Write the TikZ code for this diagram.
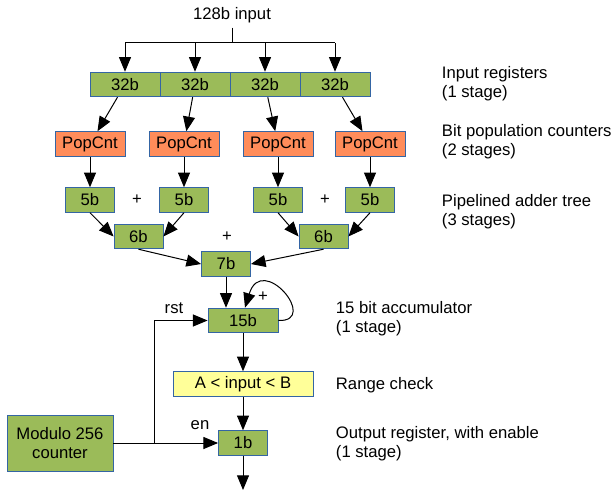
\documentclass[tikz,border=0pt]{standalone}
\usepackage{fontspec}
\setmainfont{Liberation Sans}
\usepackage{tikz}
\usetikzlibrary{arrows.meta,positioning}
\definecolor{regfill}{HTML}{9BBB59}
\definecolor{cntfill}{HTML}{FF8C5A}
\definecolor{chkfill}{HTML}{FFFF99}
\definecolor{boxline}{HTML}{3465A4}

\begin{document}
\begin{tikzpicture}[x=0.75pt,y=-0.75pt,line width=0.75pt,>={Triangle[length=11pt,width=9pt]},
	font=\fontsize{12.5}{14.25}\selectfont,
	box/.style={draw=boxline,line width=0.6pt,inner sep=0pt,minimum height=18.5pt},
	reg/.style={box,fill=regfill,minimum width=52.5pt},
	adder/.style={box,fill=regfill,minimum width=36.75pt},
	cnt/.style={box,fill=cntfill,minimum width=52.5pt},
	note/.style={anchor=west,align=left}]
	\useasboundingbox (0,0) rectangle (613,491);

	\node (in) at (232,15) {128b input};
	\coordinate (fork) at (232,43);
	\node[reg]   (r1) at (125,84.5) {32b};
	\node[reg]   (r2) [right=-0.6pt of r1] {32b};
	\node[reg]   (r3) [right=-0.6pt of r2] {32b};
	\node[reg]   (r4) [right=-0.6pt of r3] {32b};

	\node[cnt]   (p1) at (90,144) {PopCnt};
	\node[cnt]   (p2) at (184,144) {PopCnt};
	\node[cnt]   (p3) at (278,144) {PopCnt};
	\node[cnt]   (p4) at (370,144) {PopCnt};

	\node[adder] (a1) at (90,200) {5b};
	\node[adder] (a2) at (184,200) {5b};
	\node[adder] (a3) at (278,200) {5b};
	\node[adder] (a4) at (370,200) {5b};
	\node        (plus1) at (137,200) {+};
	\node        (plus2) at (325,200) {+};

	\node[adder] (b1) at (138.5,236.5) {6b};
	\node[adder] (b2) at (323.5,236.5) {6b};
	\node        (plus3) at (227,237) {+};
	\node[adder] (c)  at (226,264) {7b};

	\node[reg]   (acc) at (243,320.5) {15b};
	\node        (plus4) at (263,297) {+};
	\node[box,fill=chkfill,minimum width=105pt] (rng) at (243,384) {A < input < B};
	\node[adder] (outreg) at (243,443) {1b};
	\coordinate (out) at (243,490);

	\node[box,fill=regfill,minimum width=79.5pt,minimum height=42pt,align=center] (mod) at (60,443) {Modulo 256\\counter};
	\coordinate (split) at (154,443);
	\node (rst) at (174,308) {rst};
	\node (en)  at (200,425) {en};

	\node[note] (n1) at (437,83.5) {Input registers\\(1 stage)};
	\node[note] (n2) at (437,141.5) {Bit population counters\\(2 stages)};
	\node[note] (n3) at (437,212) {Pipelined adder tree\\(3 stages)};
	\node[note] (n4) at (331,318.5) {15 bit accumulator\\(1 stage)};
	\node[note] (n5) at (331,385) {Range check};
	\node[note] (n6) at (331,444) {Output register, with enable\\(1 stage)};

	\draw (in) -- (fork) (fork -| r1) -- (fork -| r4);
	\path[->] (fork -| r1) edge (r1)
		(fork -| r2) edge (r2)
		(fork -| r3) edge (r3)
		(fork -| r4) edge (r4)
		(r1) edge (p1)
		(r2) edge (p2)
		(r3) edge (p3)
		(r4) edge (p4)
		(p1) edge (a1)
		(p2) edge (a2)
		(p3) edge (a3)
		(p4) edge (a4)
		(a1.south) edge (b1.west)
		(a2.south) edge (b1.east)
		(a3.south) edge (b2.west)
		(a4.south) edge (b2.east)
		(b1.south) edge (c.west)
		(b2.south) edge (c.east)
		(c.south) edge (c.south |- acc.north)
		(acc) edge (rng)
		(rng) edge (outreg)
		(outreg) edge (out);
	\draw[->] (acc.east) .. controls (320,322) and (262,252) .. ([xshift=1.5pt]acc.north);
	\draw (mod.east) -- (split);
	\draw[->] (split) |- (acc.west);
	\draw[->] (split) -- (outreg.west);
\end{tikzpicture}
\end{document}
